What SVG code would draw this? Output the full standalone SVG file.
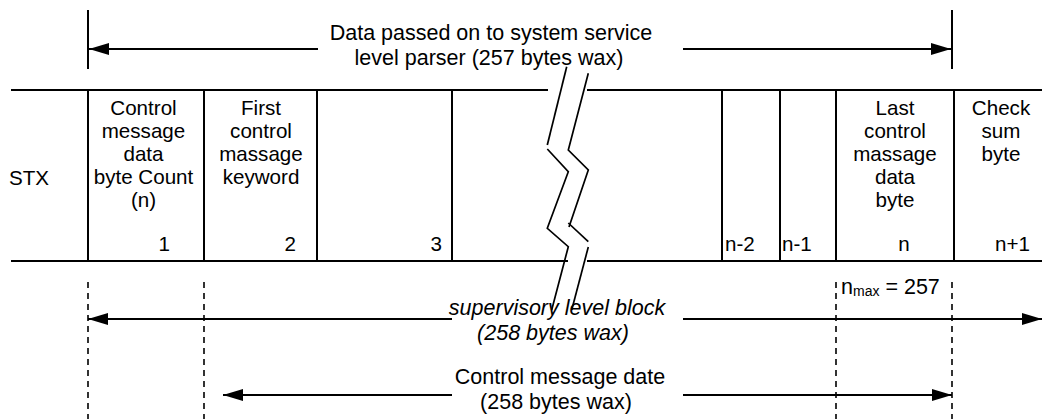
<svg xmlns="http://www.w3.org/2000/svg" width="1042" height="419" viewBox="0 0 1042 419">
<style>
text{font-family:"Liberation Sans",Arial,sans-serif;font-size:21.5px;fill:#000}
.t{font-size:20.6px}
.c{text-anchor:middle}
.e{text-anchor:end}
.i{font-style:italic}
.ln{stroke:#000;stroke-width:2;fill:none}
.dash{stroke:#000;stroke-width:1.6;stroke-dasharray:6 5;fill:none}
.br{stroke:#000;stroke-width:1.7;fill:none;stroke-linejoin:miter}
</style>
<defs>
<marker id="ah" viewBox="0 0 20 12" refX="20" refY="6" markerWidth="20" markerHeight="12" markerUnits="userSpaceOnUse" orient="auto">
<path d="M0,0 L20,6 L0,12 Z" fill="#000"/>
</marker>
</defs>
<rect width="1042" height="419" fill="#fff"/>

<g id="frame">
<path class="ln" d="M11,90 H548 M587,90 H1042 M11,261 H568 M587,261 H1042"/>
<path class="ln" d="M88,90 V261 M204,90 V261 M317,90 V261 M452,90 V261 M722,90 V261 M780,90 V261 M836,90 V261 M954,90 V261"/>
</g>

<g id="break">
<path class="br" d="M566.7,66.7 L547.3,145"/>
<path class="br" d="M547.3,149 L568.3,171.7 L547.3,228.3 L568.3,246.7 L551.7,310"/>
<path class="br" d="M588.3,73.3 L568.3,150 L588.3,170 L569,227"/>
<path class="br" d="M568.3,223 L588.3,241.7"/>
<path class="br" d="M588.3,247 L571.7,310"/>
</g>

<g id="stx"><text class="t" x="9" y="185">STX</text></g>

<g id="cell-1" class="t">
<text class="t c" x="143.5" y="115">Control</text>
<text class="t c" x="143.5" y="138">message</text>
<text class="t c" x="143.5" y="161">data</text>
<text class="t c" x="143.5" y="184">byte Count</text>
<text class="t c" x="143.5" y="207">(n)</text>
<text class="t e" x="170" y="251">1</text>
</g>

<g id="cell-2">
<text class="t c" x="261" y="115">First</text>
<text class="t c" x="261" y="138">control</text>
<text class="t c" x="261" y="161">massage</text>
<text class="t c" x="261" y="184">keyword</text>
<text class="t e" x="296" y="251">2</text>
</g>

<g id="cell-3"><text class="t e" x="442" y="251">3</text></g>
<g id="cell-n-2"><text class="t" x="725" y="251">n-2</text></g>
<g id="cell-n-1"><text class="t" x="782" y="251">n-1</text></g>

<g id="cell-n">
<text class="t c" x="895" y="115">Last</text>
<text class="t c" x="895" y="138">control</text>
<text class="t c" x="895" y="161">massage</text>
<text class="t c" x="895" y="184">data</text>
<text class="t c" x="895" y="207">byte</text>
<text class="t c" x="904" y="251">n</text>
</g>

<g id="cell-checksum">
<text class="t c" x="1001" y="115">Check</text>
<text class="t c" x="1001" y="138">sum</text>
<text class="t c" x="1001" y="161">byte</text>
<text class="t" x="995" y="251">n+1</text>
</g>

<g id="label-parser">
<text class="c" x="491" y="40">Data passed on to system service</text>
<text class="c" x="489" y="65">level parser (257 bytes wax)</text>
</g>

<g id="label-supervisory">
<text class="c i" x="557" y="315">supervisory level block</text>
<text class="c i" x="553" y="340">(258 bytes wax)</text>
</g>

<g id="label-control">
<text class="c" x="560" y="384">Control message date</text>
<text class="c" x="556" y="409">(258 bytes wax)</text>
</g>

<g id="label-nmax">
<text x="841" y="294">n<tspan font-size="14" dy="2">max</tspan><tspan dy="-2"> = 257</tspan></text>
</g>

<g id="connectors">
<path class="ln" d="M88,10 V69 M952,10 V69"/>
<line class="ln" x1="318" y1="49" x2="89" y2="49" marker-end="url(#ah)"/>
<line class="ln" x1="683" y1="49" x2="951" y2="49" marker-end="url(#ah)"/>
<line class="ln" x1="452" y1="319" x2="88" y2="319" marker-end="url(#ah)"/>
<line class="ln" x1="683" y1="319" x2="1042" y2="319" marker-end="url(#ah)"/>
<line class="ln" x1="452" y1="395" x2="223" y2="395" marker-end="url(#ah)"/>
<line class="ln" x1="683" y1="395" x2="952" y2="395" marker-end="url(#ah)"/>
<path class="dash" d="M88,282 V419 M204,282 V419 M836,282 V419 M952,282 V419"/>
</g>
</svg>
